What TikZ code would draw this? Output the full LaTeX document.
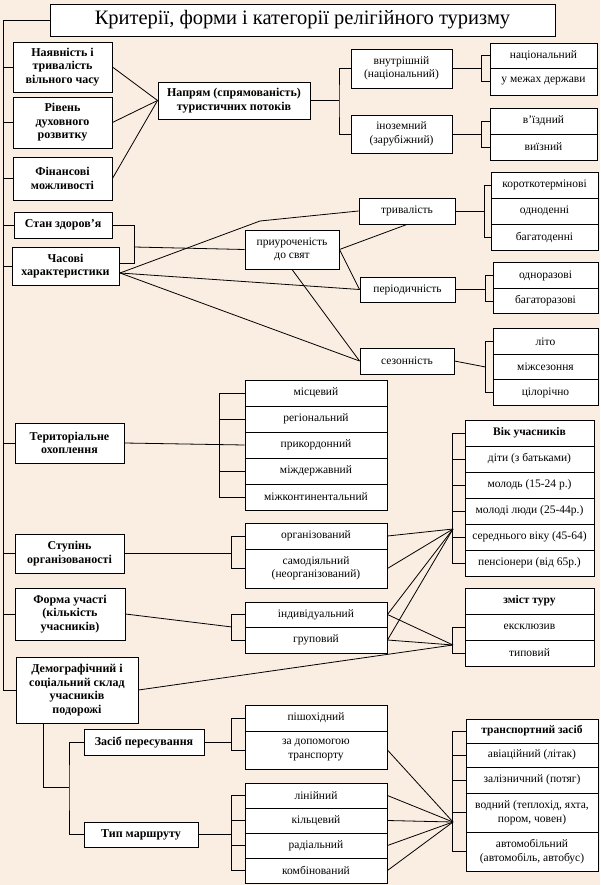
\documentclass[tikz,border=0pt]{standalone}
\usepackage{fontspec}
\setmainfont{Liberation Serif}
\usetikzlibrary{calc}
\definecolor{paper}{HTML}{FAEDE1}
\tikzset{
  cell/.style={draw=black, line width=0.9pt, fill=white, align=center,
               inner sep=1pt, text=black, font=\fontsize{11.5}{13.5}\selectfont},
  crit/.style={cell, font=\bfseries\fontsize{12}{13.5}\selectfont},
  head/.style={cell, font=\bfseries\fontsize{11.5}{13.5}\selectfont},
  link/.style={draw=black, line width=0.8pt},
}

\begin{document}
\begin{tikzpicture}[x=1pt, y=-1pt]

\fill[paper] (0,0) rectangle (600,885);
\useasboundingbox (0,0) rectangle (600,885);

% ------------------------------------------------------------------ title
\node[cell, font=\fontsize{20.5}{24}\selectfont, minimum width=505,
      minimum height=32] (title) at (302.5,20)
  {Критерії, форми і категорії релігійного туризму};

% ---------------------------------------------------------------- criteria
\node[crit, minimum width=99, minimum height=50] (nay) at (62.5,67)
  {Наявність і\\тривалість\\вільного часу};
\node[crit, minimum width=99, minimum height=51] (riv) at (62.5,122.5)
  {Рівень\\духовного\\розвитку};
\node[crit, minimum width=99, minimum height=43] (fin) at (62.5,178.5)
  {Фінансові\\можливості};
\node[crit, minimum width=98, minimum height=26] (stan) at (63,225)
  {Стан здоров’я};
\node[crit, minimum width=107, minimum height=38] (chas) at (65.5,266)
  {Часові\\характеристики};
\node[crit, minimum width=109, minimum height=40] (terr) at (69.5,443)
  {Територіальне\\охоплення};
\node[crit, minimum width=109, minimum height=39] (stup) at (69.5,553.5)
  {Ступінь\\організованості};
\node[crit, minimum width=110, minimum height=52] (form) at (70,614)
  {Форма участі\\(кількість\\учасників)};
\node[crit, minimum width=122, minimum height=66] (demo) at (77,690)
  {Демографічний і\\соціальний склад\\учасників\\подорожі};
\node[crit, minimum width=120, minimum height=26] (zasib) at (144,742)
  {Засіб пересування};
\node[crit, minimum width=114, minimum height=25] (typ) at (141,834.5)
  {Тип маршруту};

\coordinate (sp) at (3,0);
\draw[link] (title.west) -| (sp |- demo.west) -- (demo.west);
\foreach \n in {nay,riv,fin,stan,chas,terr,stup,form}
  \draw[link] (sp |- \n.west) -- (\n.west);

% --------------------------------------------------------------- direction
\node[crit, minimum width=152, minimum height=37] (napr) at (234,100.5)
  {Напрям (спрямованість)\\туристичних потоків};
\node[cell, minimum width=101, minimum height=39] (vnut) at (401.5,68.5)
  {внутрішній\\(національний)};
\node[cell, minimum width=101, minimum height=38] (inoz) at (401.5,134)
  {іноземний\\(зарубіжний)};
\node[cell, minimum width=107, minimum height=25] (nat1) at (543.5,55.5)
  {національний};
\node[cell, minimum width=107, minimum height=27] (nat2) at (543.5,81.5)
  {у межах держави};
\node[cell, minimum width=107, minimum height=26] (zar1) at (543.5,121)
  {в'їздний};
\node[cell, minimum width=107, minimum height=26] (zar2) at (543.5,147)
  {виїзний};

\foreach \n in {nay,riv,fin} \draw[link] (\n.east) -- (napr.west);
\coordinate (nbr) at (339,100.5);
\draw[link] (napr.east) -- (nbr);
\draw[link] (vnut.west) -| (nbr) |- (inoz.west);
\draw[link] (vnut.east) -- ([xshift=-8pt]vnut.east -| nat1.west);
\draw[link] (nat1.west) -- ++(-8,0) |- (nat2.west);
\draw[link] (inoz.east) -- ([xshift=-8pt]inoz.east -| zar1.west);
\draw[link] (zar1.west) -- ++(-8,0) |- (zar2.west);

% -------------------------------------------------------------------- time
\node[cell, minimum width=96, minimum height=26] (tryv) at (407,211)
  {тривалість};
\node[cell, minimum width=94, minimum height=39] (pryur) at (292,249.5)
  {приуроченість\\до свят};
\node[cell, minimum width=95, minimum height=25] (period) at (407.5,289.5)
  {періодичність};
\node[cell, minimum width=94, minimum height=26] (sez) at (407,361)
  {сезонність};

\foreach \t [count=\i] in {короткотермінові, одноденні, багатоденні}
  \node[cell, minimum width=107, minimum height=26] (dur\i)
    at (544.5,159+26*\i) {\t};
\foreach \t [count=\i] in {одноразові, багаторазові}
  \node[cell, minimum width=105, minimum height=25.5] (per\i)
    at (545.5,250+25.5*\i) {\t};
\foreach \t [count=\i] in {літо, міжсезоння, цілорічно}
  \node[cell, minimum width=105, minimum height=25.5] (ses\i)
    at (545.5,316+25.5*\i) {\t};

\coordinate (chP) at (120,273);
\coordinate (bend) at (260,221);
\draw[link] (chP) -- (bend) -- (tryv.west);
\draw[link] (chP) -- (period.west);
\draw[link] (chP) -- (sez.west);
\coordinate (sbr) at (134,263);
\coordinate (sbm) at (134,247);
\draw[link] (stan.east) -| (sbr) -- (sbr -| chas.east);
\draw[link] (sbm) -- (pryur.west);
\draw[link] (pryur.east) -- (tryv.south);
\draw[link] (pryur.east) -- (period.west);
\draw[link] (pryur.south) -- (sez.west);

\draw[link] (tryv.east) -- ([xshift=-6pt]tryv.east -| dur1.west);
\draw[link] (dur1.west) -- ++(-6,0) |- (dur3.west);
\draw[link] (period.east) -- ([xshift=-7pt]period.east -| per1.west);
\draw[link] (per1.west) -- ++(-7,0) |- (per2.west);
\draw[link] (sez.east) -- ([xshift=-7pt]ses2.west);
\draw[link] (ses1.west) -- ++(-7,0) |- (ses3.west);

% --------------------------------------------------------------- territory
\foreach \t [count=\i] in {місцевий, регіональний, прикордонний,
                           міждержавний, міжконтинентальний}
  \node[cell, minimum width=142, minimum height=26] (ter\i)
    at (316,367+26*\i) {\t};

\draw[link] (terr.east) -- (ter3.west);
\draw[link] (ter1.west) -- ++(-25,0) |- (ter5.west);
\foreach \i in {2,4} \draw[link] (ter\i.west) -- ++(-25,0);

% ------------------------------------------------------------ organisation
\node[cell, minimum width=142, minimum height=26] (org1) at (316,536)
  {організований};
\node[cell, minimum width=142, minimum height=39] (org2) at (316,568.5)
  {самодіяльний\\(неорганізований)};
\draw[link] (stup.east) -- ([xshift=-13pt]stup.east -| org1.west);
\draw[link] (org1.west) -- ++(-13,0) |- (org2.west);

% ------------------------------------------------------------------- form
\node[cell, minimum width=142, minimum height=25] (ind) at (316,614.5)
  {індивідуальний};
\node[cell, minimum width=142, minimum height=26] (grp) at (316,640)
  {груповий};
\coordinate (fbr) at (232,627);
\draw[link] (form.east) -- (fbr);
\draw[link] (ind.west) -- ++(-13,0) |- (grp.west);

% -------------------------------------------------------------------- age
\node[head, minimum width=129, minimum height=26] (age1) at (529.5,433)
  {Вік учасників};
\foreach \t [count=\i from 2] in {діти (з батьками), молодь (15-24 р.),
    молоді люди (25-44р.), середнього віку (45-64), пенсіонери (від 65р.)}
  \node[cell, minimum width=129, minimum height=26] (age\i)
    at (529.5,407+26*\i) {\t};
\draw[link] (age1.west) -- ++(-12,0) |- (age6.west);
\foreach \i in {2,...,5} \draw[link] (age\i.west) -- ++(-12,0);

\coordinate (ageQ) at (453,529);
\foreach \n in {org1,org2,ind,grp} \draw[link] (\n.east) -- (ageQ);

% ------------------------------------------------------------ tour content
\node[head, minimum width=129, minimum height=26] (zm1) at (529.5,601)
  {зміст туру};
\node[cell, minimum width=129, minimum height=26] (zm2) at (529.5,627)
  {ексклюзив};
\node[cell, minimum width=129, minimum height=26] (zm3) at (529.5,653)
  {типовий};
\draw[link] (zm2.west) -- ++(-12,0) |- (zm3.west);

\coordinate (zmR) at (453,645);
\foreach \n in {ind,grp,demo} \draw[link] (\n.east) -- (zmR);

% -------------------------------------------------------------- transport
\coordinate (dbr) at (69,787);
\draw[link] ([xshift=-34pt]demo.south) |- (dbr);
\draw[link] (zasib.west) -| (dbr) |- (typ.west);

\node[cell, minimum width=142, minimum height=26] (pis) at (316,718)
  {пішохідний};
\node[cell, minimum width=142, minimum height=38] (tra) at (316,750)
  {за допомогою\\транспорту};
\draw[link] (zasib.east) -- ([xshift=-13pt]zasib.east -| pis.west);
\draw[link] (pis.west) -- ++(-13,0) |- (tra.west);

\foreach \t [count=\i] in {лінійний, кільцевий, радіальний, комбінований}
  \node[cell, minimum width=142, minimum height=25] (rt\i)
    at (316,770.5+25*\i) {\t};
\draw[link] (typ.east) -- ([xshift=-13pt]typ.east -| rt1.west);
\draw[link] (rt1.west) -- ++(-13,0) |- (rt4.west);
\foreach \i in {2,3} \draw[link] (rt\i.west) -- ++(-13,0);

\node[head, minimum width=132, minimum height=24] (tr1) at (532,731)
  {транспортний засіб};
\node[cell, minimum width=132, minimum height=24] (tr2) at (532,755)
  {авіаційний (літак)};
\node[cell, minimum width=132, minimum height=26] (tr3) at (532,780)
  {залізничний (потяг)};
\node[cell, minimum width=132, minimum height=39] (tr4) at (532,812.5)
  {водний (теплохід, яхта,\\пором, човен)};
\node[cell, minimum width=132, minimum height=39] (tr5) at (532,851.5)
  {автомобільний\\(автомобіль, автобус)};
\draw[link] (tr1.west) -- ++(-13,0) |- (tr5.west);
\foreach \i in {2,3,4} \draw[link] (tr\i.west) -- ++(-13,0);

\coordinate (trS) at (453,822);
\foreach \n in {tra,rt1,rt2,rt3,rt4} \draw[link] (\n.east) -- (trS);

\end{tikzpicture}
\end{document}
